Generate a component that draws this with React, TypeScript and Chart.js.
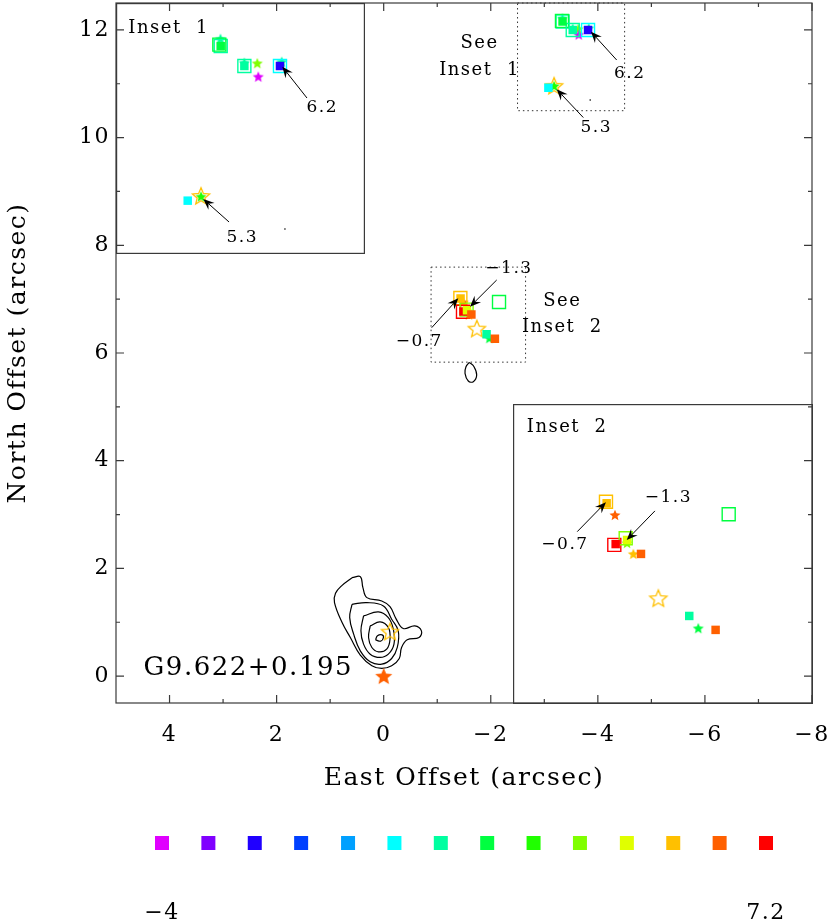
import React, { useEffect, useRef } from "react";
import { Chart, registerables } from "chart.js";

Chart.register(...registerables);

const FONT_FAMILY = "'DejaVu Serif', 'Liberation Serif', serif";
const INK = "#000000";
const FRAME = "#3a3a3a";

// ---------- colour bar : velocity bins (km/s) ----------
const binVelocities = [-4, -3.14, -2.28, -1.42, -0.55, 0.31, 1.17, 2.03, 2.89, 3.75, 4.62, 5.48, 6.34, 7.2];
const binColors = [
  "#e000ff", "#8000ff", "#2000ff", "#0040ff", "#00a0ff", "#00ffff", "#00ffa0",
  "#00ff40", "#20ff00", "#80ff00", "#e0ff00", "#ffc000", "#ff6000", "#ff0000",
];
const colorbarTicks = [-4, 7.2];

// ---------- main axes ----------
const mainXRange = [-8, 5];
const mainYRange = [-0.5, 12.5];
const xMajorTicks = [4, 2, 0, -2, -4, -6, -8];
const xMinorTicks = [3, 1, -1, -3, -5, -7];
const yMajorTicks = [0, 2, 4, 6, 8, 10, 12];
const yMinorTicks = [1, 3, 5, 7, 9, 11];

// ---------- zoomed regions (dotted boxes in the main panel) ----------
const inset1XRange = [-4.5, -2.5];
const inset1YRange = [10.5, 12.5];
const inset2XRange = [-2.65, -0.885];
const inset2YRange = [5.83, 7.595];

// ---------- maser spots (arcsec offsets) and their velocity bin ----------
const filledSquareX = [-3.341, -3.531, -3.817, -3.076, -1.436, -1.489, -1.556, -1.638, -1.922, -2.077];
const filledSquareY = [12.157, 11.998, 11.998, 10.925, 7.011, 6.771, 6.795, 6.713, 6.348, 6.266];
const filledSquareBin = [7, 6, 2, 5, 11, 13, 10, 12, 6, 12];

const openSquareX = [-3.341, -3.33, -3.531, -3.817, -1.432, -1.481, -1.548, -2.154];
const openSquareY = [12.157, 12.168, 11.998, 11.998, 7.02, 6.766, 6.805, 6.946];
const openSquareBin = [6, 7, 6, 5, 11, 13, 9, 7];

const filledStarX = [-3.339, -3.531, -3.635, -3.643, -3.831, -3.183, -1.485, -1.556, -1.593, -1.975];
const filledStarY = [12.215, 12.024, 12.02, 11.913, 12.032, 10.958, 6.942, 6.777, 6.713, 6.276];
const filledStarBin = [6, 6, 9, 0, 6, 8, 12, 9, 11, 7];

const bigStarX = [0];
const bigStarY = [0];
const bigStarBin = [12];

const openStarX = [-3.183, -1.74, -0.118];
const openStarY = [10.962, 6.452, 0.825];
const openStarBin = [11, 11, 11];

const dotX = [-3.857];
const dotY = [10.699];

// ---------- continuum contours ----------
const contour1X = [0.591, 0.437, 0.388, 0.314, 0.036, -0.118, -0.229, -0.365, -0.581, -0.705, -0.661, -0.439, -0.334, -0.291, -0.149, 0.036, 0.221, 0.437, 0.623, 0.777, 0.919, 0.9, 0.777, 0.591];
const contour1Y = [1.827, 1.846, 1.642, 1.457, 1.395, 1.29, 1.068, 0.883, 0.932, 0.839, 0.716, 0.673, 0.531, 0.327, 0.191, 0.142, 0.191, 0.389, 0.716, 0.994, 1.364, 1.537, 1.685, 1.827];
const contour2X = [0.592, 0.314, 0.005, -0.149, -0.272, -0.254, -0.149, 0.036, 0.252, 0.437, 0.561, 0.635, 0.592];
const contour2Y = [1.333, 1.364, 1.302, 1.056, 0.84, 0.531, 0.327, 0.222, 0.265, 0.469, 0.778, 1.086, 1.333];
const contour3X = [0.376, 0.098, -0.087, -0.18, -0.192, -0.087, 0.067, 0.252, 0.376, 0.425, 0.376];
const contour3Y = [1.117, 1.191, 1.086, 0.87, 0.593, 0.407, 0.346, 0.407, 0.593, 0.84, 1.117];
const contour4X = [0.252, 0.067, -0.087, -0.118, -0.056, 0.098, 0.221, 0.283, 0.252];
const contour4Y = [0.932, 1.006, 0.901, 0.685, 0.5, 0.451, 0.531, 0.716, 0.932];
const contour5X = [0.153, 0.116, 0.03, 0.005, 0.055, 0.153];
const contour5Y = [0.673, 0.747, 0.765, 0.716, 0.648, 0.673];
const contour6X = [-1.599, -1.687, -1.737, -1.674, -1.58, -1.519, -1.537, -1.599];
const contour6Y = [5.827, 5.746, 5.591, 5.467, 5.48, 5.623, 5.746, 5.827];

// ---------- annotations: main panel ----------
const mainArrowFromX = [-4.352, -3.728, -2.111, -0.897];
const mainArrowFromY = [11.441, 10.373, 7.356, 6.47];
const mainArrowToX = [-3.872, -3.231, -1.612, -1.393];
const mainArrowToY = [11.966, 10.897, 6.86, 7.016];
const mainArrowLabels = ["6.2", "5.3", "\u22121.3", "\u22120.7"];
const mainArrowLabelX = [-4.595, -3.971, -2.34, -0.665];
const mainArrowLabelY = [11.194, 10.188, 7.56, 6.21];
const mainNoteTexts = ["See", "Inset  1", "See", "Inset  2"];
const mainNoteX = [-1.79, -1.79, -3.337, -3.337];
const mainNoteY = [11.751, 11.255, 6.953, 6.47];
const sourceName = "G9.622+0.195";
const sourceNameX = 2.529;
const sourceNameY = 0.145;

// ---------- annotations: inset 1 ----------
const inset1ArrowFromX = [-4.034, -3.408];
const inset1ArrowFromY = [11.743, 10.755];
const inset1ArrowToX = [-3.836, -3.201];
const inset1ArrowToY = [11.992, 10.938];
const inset1ArrowLabels = ["6.2", "5.3"];
const inset1ArrowLabelX = [-4.157, -3.514];
const inset1ArrowLabelY = [11.667, 10.629];
const inset1Title = "Inset  1";
const inset1TitleX = -2.599;
const inset1TitleY = 12.298;

// ---------- annotations: inset 2 ----------
const inset2ArrowFromX = [-1.72, -1.263];
const inset2ArrowFromY = [6.966, 6.844];
const inset2ArrowToX = [-1.554, -1.432];
const inset2ArrowToY = [6.795, 7.017];
const inset2ArrowLabels = ["\u22121.3", "\u22120.7"];
const inset2ArrowLabelX = [-1.799, -1.191];
const inset2ArrowLabelY = [7.042, 6.767];
const inset2Title = "Inset  2";
const inset2TitleX = -0.966;
const inset2TitleY = 7.456;

// ---------- layout ----------
const MAIN_W = 830;
const MAIN_H = 800;
const BAR_TOP = 800;
const BAR_H = 122;
const INSET1_BOX = { left: 116, top: 3, width: 249, height: 251 };
const INSET2_BOX = { left: 513, top: 404, width: 300, height: 300 };

function fmtNum(v: number): string {
  const r = Math.round(v * 10) / 10;
  return r < 0 ? "\u2212" + String(Math.abs(r)) : String(r);
}

function pts(xs: number[], ys: number[]) {
  return xs.map((x, i) => ({ x, y: ys[i] }));
}

function makeStar(color: string, filled: boolean, R: number): HTMLCanvasElement {
  const size = Math.ceil(2 * R + 4);
  const c = document.createElement("canvas");
  c.width = size;
  c.height = size;
  const g = c.getContext("2d") as CanvasRenderingContext2D;
  g.translate(size / 2, size / 2 + R * 0.08);
  g.beginPath();
  for (let i = 0; i < 10; i++) {
    const r = i % 2 === 0 ? R : R * 0.45;
    const a = -Math.PI / 2 + (i * Math.PI) / 5;
    if (i === 0) g.moveTo(r * Math.cos(a), r * Math.sin(a));
    else g.lineTo(r * Math.cos(a), r * Math.sin(a));
  }
  g.closePath();
  if (filled) {
    g.fillStyle = color;
    g.fill();
  } else {
    g.strokeStyle = color;
    g.lineWidth = 1.3;
    g.stroke();
  }
  return c;
}

function buildDatasets(): any[] {
  const contour = (xs: number[], ys: number[]) => ({
    data: pts(xs, ys),
    showLine: true,
    borderColor: "#000000",
    borderWidth: 1.2,
    pointRadius: 0,
    tension: 0.4,
    fill: false,
  });
  return [
    {
      data: pts(filledSquareX, filledSquareY),
      pointStyle: "rect",
      pointRadius: 6,
      pointBorderWidth: 0,
      pointBackgroundColor: filledSquareBin.map((b) => binColors[b]),
    },
    {
      data: pts(openSquareX, openSquareY),
      pointStyle: "rect",
      pointRadius: 9.2,
      pointBorderWidth: 1.4,
      pointBorderColor: openSquareBin.map((b) => binColors[b]),
      pointBackgroundColor: "rgba(0,0,0,0)",
    },
    {
      data: pts(openStarX, openStarY),
      pointStyle: openStarBin.map((b) => makeStar(binColors[b], false, 9)),
      pointRadius: 9,
    },
    {
      data: pts(filledStarX, filledStarY),
      pointStyle: filledStarBin.map((b) => makeStar(binColors[b], true, 5.8)),
      pointRadius: 6,
    },
    {
      data: pts(bigStarX, bigStarY),
      pointStyle: bigStarBin.map((b) => makeStar(binColors[b], true, 9)),
      pointRadius: 9,
    },
    {
      data: pts(dotX, dotY),
      pointStyle: "circle",
      pointRadius: 0.8,
      pointBorderWidth: 0,
      pointBackgroundColor: "#000",
    },
    contour(contour1X, contour1Y),
    contour(contour2X, contour2Y),
    contour(contour3X, contour3Y),
    contour(contour4X, contour4Y),
    contour(contour5X, contour5Y),
    contour(contour6X, contour6Y),
  ];
}

function drawArrow(ctx: CanvasRenderingContext2D, x1: number, y1: number, x2: number, y2: number) {
  ctx.save();
  ctx.strokeStyle = INK;
  ctx.fillStyle = INK;
  ctx.lineWidth = 1;
  const ang = Math.atan2(y2 - y1, x2 - x1);
  const c = Math.cos(ang);
  const s = Math.sin(ang);
  const L = 11;
  const W = 4.6;
  const N = 7;
  ctx.beginPath();
  ctx.moveTo(x1, y1);
  ctx.lineTo(x2 - N * c, y2 - N * s);
  ctx.stroke();
  const bx = x2 - L * c;
  const by = y2 - L * s;
  ctx.beginPath();
  ctx.moveTo(x2, y2);
  ctx.lineTo(bx - W * s, by + W * c);
  ctx.lineTo(x2 - N * c, y2 - N * s);
  ctx.lineTo(bx + W * s, by - W * c);
  ctx.closePath();
  ctx.fill();
  ctx.restore();
}

function drawText(ctx: CanvasRenderingContext2D, text: string, x: number, y: number, size: number, align: CanvasTextAlign = "center") {
  ctx.save();
  ctx.fillStyle = INK;
  ctx.font = `${size}px ${FONT_FAMILY}`;
  ctx.textAlign = align;
  ctx.textBaseline = "middle";
  ctx.fillText(text, x, y);
  ctx.restore();
}

function drawArrowSet(chart: any, fx: number[], fy: number[], tx: number[], ty: number[], labels: string[], lx: number[], ly: number[], size: number) {
  const xs = chart.scales.x;
  const ys = chart.scales.y;
  const ctx = chart.ctx;
  for (let i = 0; i < fx.length; i++) {
    drawArrow(ctx, xs.getPixelForValue(fx[i]), ys.getPixelForValue(fy[i]), xs.getPixelForValue(tx[i]), ys.getPixelForValue(ty[i]));
  }
  for (let i = 0; i < labels.length; i++) {
    drawText(ctx, labels[i], xs.getPixelForValue(lx[i]), ys.getPixelForValue(ly[i]), size);
  }
}

const mainPlugin = {
  id: "mainDecor",
  beforeDraw(chart: any) {
    chart.ctx.letterSpacing = "1.5px";
  },
  beforeDatasetsDraw(chart: any) {
    const { ctx, chartArea: a } = chart;
    ctx.save();
    ctx.beginPath();
    ctx.rect(a.left, a.top, a.right - a.left, a.bottom - a.top);
    for (const b of [INSET1_BOX, INSET2_BOX]) ctx.rect(b.left, b.top, b.width, b.height);
    ctx.clip("evenodd");
  },
  afterDatasetsDraw(chart: any) {
    const ctx = chart.ctx;
    ctx.restore();
    const xs = chart.scales.x;
    const ys = chart.scales.y;
    // dotted boxes marking the zoomed regions
    ctx.save();
    ctx.strokeStyle = "#333";
    ctx.lineWidth = 1;
    ctx.setLineDash([1.5, 3]);
    for (const [xr, yr] of [[inset1XRange, inset1YRange], [inset2XRange, inset2YRange]]) {
      const x1 = xs.getPixelForValue(xr[0]);
      const x2 = xs.getPixelForValue(xr[1]);
      const y1 = ys.getPixelForValue(yr[0]);
      const y2 = ys.getPixelForValue(yr[1]);
      ctx.strokeRect(Math.min(x1, x2), Math.min(y1, y2), Math.abs(x2 - x1), Math.abs(y2 - y1));
    }
    ctx.restore();
    drawArrowSet(chart, mainArrowFromX, mainArrowFromY, mainArrowToX, mainArrowToY, mainArrowLabels, mainArrowLabelX, mainArrowLabelY, 17);
    for (let i = 0; i < mainNoteTexts.length; i++) {
      drawText(ctx, mainNoteTexts[i], xs.getPixelForValue(mainNoteX[i]), ys.getPixelForValue(mainNoteY[i]), 18);
    }
    drawText(ctx, sourceName, xs.getPixelForValue(sourceNameX), ys.getPixelForValue(sourceNameY), 26);
  },
  afterDraw(chart: any) {
    const { ctx, chartArea: a } = chart;
    const xs = chart.scales.x;
    const ys = chart.scales.y;
    ctx.save();
    ctx.strokeStyle = FRAME;
    ctx.lineWidth = 1.2;
    ctx.strokeRect(a.left, a.top, a.right - a.left, a.bottom - a.top);
    ctx.beginPath();
    const xt = (vals: number[], len: number) => {
      for (const v of vals) {
        const p = xs.getPixelForValue(v);
        ctx.moveTo(p, a.bottom);
        ctx.lineTo(p, a.bottom - len);
        ctx.moveTo(p, a.top);
        ctx.lineTo(p, a.top + len);
      }
    };
    const yt = (vals: number[], len: number) => {
      for (const v of vals) {
        const p = ys.getPixelForValue(v);
        ctx.moveTo(a.left, p);
        ctx.lineTo(a.left + len, p);
        ctx.moveTo(a.right, p);
        ctx.lineTo(a.right - len, p);
      }
    };
    xt(xMajorTicks, 8);
    xt(xMinorTicks, 4);
    yt(yMajorTicks, 8);
    yt(yMinorTicks, 4);
    ctx.stroke();
    ctx.restore();
    ctx.letterSpacing = "0px";
  },
};

function insetPlugin(
  fx: number[], fy: number[], tx: number[], ty: number[],
  labels: string[], lx: number[], ly: number[],
  title: string, titleX: number, titleY: number
) {
  return {
    id: "insetDecor",
    beforeDraw(chart: any) {
      const ctx = chart.ctx;
      ctx.save();
      ctx.fillStyle = "#ffffff";
      ctx.fillRect(0, 0, chart.width, chart.height);
      ctx.restore();
      ctx.letterSpacing = "1.5px";
    },
    afterDatasetsDraw(chart: any) {
      drawArrowSet(chart, fx, fy, tx, ty, labels, lx, ly, 17);
      drawText(chart.ctx, title, chart.scales.x.getPixelForValue(titleX), chart.scales.y.getPixelForValue(titleY), 18, "left");
    },
    afterDraw(chart: any) {
      const ctx = chart.ctx;
      ctx.save();
      ctx.strokeStyle = FRAME;
      ctx.lineWidth = 1.2;
      ctx.strokeRect(0.6, 0.6, chart.width - 1.2, chart.height - 1.2);
      ctx.restore();
      ctx.letterSpacing = "0px";
    },
  };
}

function insetConfig(xr: number[], yr: number[], plugin: any): any {
  return {
    type: "scatter",
    data: { datasets: buildDatasets() },
    options: {
      responsive: false,
      animation: false,
      events: [],
      layout: { padding: 0, autoPadding: false },
      plugins: { legend: { display: false }, tooltip: { enabled: false }, colors: { enabled: false } },
      scales: {
        x: { type: "linear", display: false, min: xr[0], max: xr[1], reverse: true },
        y: { type: "linear", display: false, min: yr[0], max: yr[1] },
      },
    },
    plugins: [plugin],
  };
}

export default function App() {
  const mainRef = useRef<HTMLCanvasElement>(null);
  const in1Ref = useRef<HTMLCanvasElement>(null);
  const in2Ref = useRef<HTMLCanvasElement>(null);
  const barRef = useRef<HTMLCanvasElement>(null);

  useEffect(() => {
    const charts: Chart[] = [];
    const tickFont = { family: FONT_FAMILY, size: 22 };
    const titleFont = { family: FONT_FAMILY, size: 25 };

    charts.push(
      new Chart(
        in1Ref.current as HTMLCanvasElement,
        insetConfig(
          inset1XRange,
          inset1YRange,
          insetPlugin(inset1ArrowFromX, inset1ArrowFromY, inset1ArrowToX, inset1ArrowToY, inset1ArrowLabels, inset1ArrowLabelX, inset1ArrowLabelY, inset1Title, inset1TitleX, inset1TitleY)
        )
      )
    );
    charts.push(
      new Chart(
        in2Ref.current as HTMLCanvasElement,
        insetConfig(
          inset2XRange,
          inset2YRange,
          insetPlugin(inset2ArrowFromX, inset2ArrowFromY, inset2ArrowToX, inset2ArrowToY, inset2ArrowLabels, inset2ArrowLabelX, inset2ArrowLabelY, inset2Title, inset2TitleX, inset2TitleY)
        )
      )
    );

    charts.push(
      new Chart(mainRef.current as HTMLCanvasElement, {
        type: "scatter",
        data: { datasets: buildDatasets() },
        options: {
          responsive: false,
          animation: false,
          events: [],
          layout: { padding: { top: 3, right: 18, left: 0, bottom: 0 }, autoPadding: false },
          plugins: { legend: { display: false }, tooltip: { enabled: false }, colors: { enabled: false } } as any,
          scales: {
            x: {
              type: "linear",
              min: mainXRange[0],
              max: mainXRange[1],
              reverse: true,
              afterBuildTicks: (s: any) => {
                s.ticks = xMajorTicks.map((v) => ({ value: v }));
              },
              afterFit: (s: any) => {
                s.height = 97;
                s.paddingLeft = 0;
                s.paddingRight = 0;
                s.paddingTop = 0;
                s.paddingBottom = 0;
              },
              grid: { display: false, drawTicks: false },
              border: { display: false },
              ticks: { callback: (v: any) => fmtNum(Number(v)), font: tickFont, color: INK, padding: 19, maxRotation: 0, autoSkip: false },
              title: { display: true, text: "East Offset (arcsec)", font: titleFont, color: INK, padding: { top: 0, bottom: 7 } },
            },
            y: {
              type: "linear",
              min: mainYRange[0],
              max: mainYRange[1],
              afterBuildTicks: (s: any) => {
                s.ticks = yMajorTicks.map((v) => ({ value: v }));
              },
              afterFit: (s: any) => {
                s.width = 116;
                s.paddingLeft = 0;
                s.paddingRight = 0;
                s.paddingTop = 0;
                s.paddingBottom = 0;
              },
              grid: { display: false, drawTicks: false },
              border: { display: false },
              ticks: { callback: (v: any) => fmtNum(Number(v)), font: tickFont, color: INK, padding: 6, autoSkip: false },
              title: { display: true, text: "North Offset (arcsec)", font: titleFont, color: INK, padding: { top: 3, bottom: 0 } },
            },
          } as any,
        },
        plugins: [mainPlugin],
      } as any)
    );

    charts.push(
      new Chart(barRef.current as HTMLCanvasElement, {
        type: "scatter",
        data: {
          datasets: [
            {
              data: binVelocities.map((v) => ({ x: v, y: 0.5 })),
              pointStyle: "rect",
              pointRadius: 9.9,
              pointBorderWidth: 0,
              pointBackgroundColor: binColors,
              clip: false,
            },
          ],
        },
        options: {
          responsive: false,
          animation: false,
          events: [],
          layout: { padding: { left: 162, right: 64, top: 0, bottom: 0 }, autoPadding: false },
          plugins: { legend: { display: false }, tooltip: { enabled: false }, colors: { enabled: false } } as any,
          scales: {
            x: {
              type: "linear",
              min: binVelocities[0],
              max: binVelocities[binVelocities.length - 1],
              afterBuildTicks: (s: any) => {
                s.ticks = colorbarTicks.map((v) => ({ value: v }));
              },
              afterFit: (s: any) => {
                s.height = 36;
                s.paddingLeft = 0;
                s.paddingRight = 0;
              },
              grid: { display: false, drawTicks: false },
              border: { display: false },
              ticks: { callback: (v: any) => fmtNum(Number(v)), font: tickFont, color: INK, padding: 14, maxRotation: 0, autoSkip: false },
            },
            y: { type: "linear", display: false, min: 0, max: 1 },
          } as any,
        },
        plugins: [
          {
            id: "barSpacing",
            beforeDraw(chart: any) {
              chart.ctx.letterSpacing = "1.5px";
            },
            afterDraw(chart: any) {
              chart.ctx.letterSpacing = "0px";
            },
          },
        ],
      } as any)
    );

    return () => {
      charts.forEach((c) => c.destroy());
    };
  }, []);

  return (
    <div style={{ position: "absolute", left: 0, top: 0, width: 830, height: 922, background: "#ffffff", overflow: "hidden" }}>
      <canvas ref={in1Ref} width={INSET1_BOX.width} height={INSET1_BOX.height} style={{ position: "absolute", left: INSET1_BOX.left, top: INSET1_BOX.top }} />
      <canvas ref={in2Ref} width={INSET2_BOX.width} height={INSET2_BOX.height} style={{ position: "absolute", left: INSET2_BOX.left, top: INSET2_BOX.top }} />
      <canvas ref={mainRef} width={MAIN_W} height={MAIN_H} style={{ position: "absolute", left: 0, top: 0 }} />
      <canvas ref={barRef} width={MAIN_W} height={BAR_H} style={{ position: "absolute", left: 0, top: BAR_TOP }} />
    </div>
  );
}
